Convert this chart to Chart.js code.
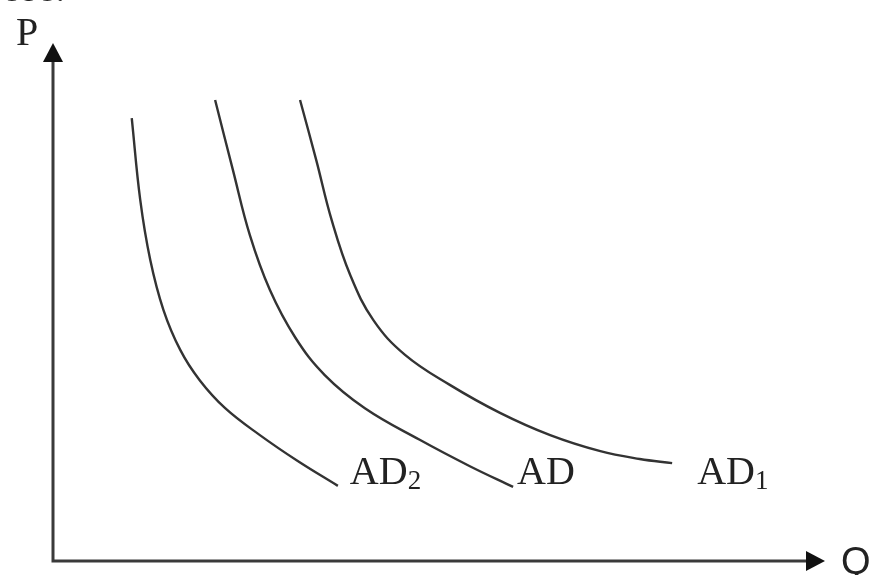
<!DOCTYPE html>
<html>
<head>
<meta charset="utf-8">
<script src="https://cdn.jsdelivr.net/npm/chart.js@4/dist/chart.umd.min.js"></script>
<style>
  html, body { margin: 0; padding: 0; background: #fff; }
  #wrap { width: 878px; height: 575px; position: relative; }
</style>
</head>
<body>
<div id="wrap"><canvas id="c" width="878" height="575"></canvas></div>
<script>
// Aggregate demand curves: quantity (Q) vs price level (P), arbitrary units 0–100
const adLeftQ  = [10.2, 11.3, 12.6, 14.3, 16.5, 19.0, 22.3, 26.8, 31.7, 36.9];
const adLeftP  = [85.5, 69.7, 58.1, 48.5, 40.7, 34.9, 29.5, 24.3, 19.3, 14.5];

const adMidQ   = [21.0, 23.3, 25.5, 28.1, 31.4, 35.2, 40.4, 47.5, 54.0, 59.6];
const adMidP   = [89.0, 75.5, 62.9, 52.3, 43.1, 35.9, 29.5, 23.4, 18.3, 14.3];

const adRightQ = [32.0, 34.1, 36.1, 38.5, 41.5, 45.6, 51.4, 57.9, 64.4, 70.9, 76.0, 80.2];
const adRightP = [89.0, 77.4, 65.8, 55.2, 46.5, 39.8, 34.0, 28.6, 24.3, 21.2, 19.7, 18.9];

// Curve labels: main text + subscript
const curveNames = [
  { main: 'AD', sub: '2' },
  { main: 'AD', sub: '' },
  { main: 'AD', sub: '1' }
];
const axisNames = { x: 'Q', y: 'P' };

const toPoints = (qs, ps) => qs.map((q, i) => ({ x: q, y: ps[i] }));

const INK = '#333';

const curveStyle = {
  showLine: true,
  borderColor: INK,
  borderWidth: 2.4,
  pointRadius: 0,
  fill: false,
  tension: 0.4
};

// Axes with arrowheads, drawn from the scales' origin
const axesPlugin = {
  id: 'arrowAxes',
  afterDatasetsDraw(chart) {
    const { ctx, scales: { x, y } } = chart;
    const ox = x.getPixelForValue(0);
    const oy = y.getPixelForValue(0);
    const xEnd = x.getPixelForValue(x.max);
    const yEnd = y.getPixelForValue(y.max);
    const head = 19, half = 10;
    ctx.save();
    ctx.strokeStyle = '#3a3a3a';
    ctx.fillStyle = '#111';
    ctx.lineWidth = 3;
    ctx.beginPath();
    ctx.moveTo(ox, oy + 1.5);
    ctx.lineTo(ox, yEnd + head - 2);
    ctx.moveTo(ox - 1.5, oy);
    ctx.lineTo(xEnd - head + 2, oy);
    ctx.stroke();
    // vertical arrowhead
    ctx.beginPath();
    ctx.moveTo(ox, yEnd);
    ctx.lineTo(ox - half, yEnd + head);
    ctx.lineTo(ox + half, yEnd + head);
    ctx.closePath();
    ctx.fill();
    // horizontal arrowhead
    ctx.beginPath();
    ctx.moveTo(xEnd, oy);
    ctx.lineTo(xEnd - head, oy - half);
    ctx.lineTo(xEnd - head, oy + half);
    ctx.closePath();
    ctx.fill();

    // axis names
    ctx.fillStyle = '#222';
    ctx.textBaseline = 'alphabetic';
    ctx.font = '40px "Liberation Serif"';
    ctx.textAlign = 'left';
    ctx.fillText(axisNames.y, ox - 37, yEnd + 2);
    ctx.font = '38px "Liberation Sans"';
    ctx.fillText(axisNames.x, xEnd + 16, oy + 13);

    // heading line cut off at the top edge
    ctx.font = '40px "Liberation Serif"';
    ctx.fillText('ose.', 2, 1);
    ctx.restore();
  }
};

// Labels placed just to the right of each curve's lower end
const labelPlugin = {
  id: 'curveLabels',
  afterDatasetsDraw(chart, args, opts) {
    const { ctx } = chart;
    ctx.save();
    ctx.fillStyle = '#222';
    ctx.textBaseline = 'alphabetic';
    ctx.textAlign = 'left';
    chart.data.datasets.forEach((ds, i) => {
      const meta = chart.getDatasetMeta(i);
      const last = meta.data[meta.data.length - 1];
      const name = curveNames[i];
      const px = last.x + opts.gaps[i];
      const py = opts.baseline;
      ctx.font = '40px "Liberation Serif"';
      ctx.fillText(name.main, px, py);
      const w = ctx.measureText(name.main).width;
      if (name.sub) {
        ctx.font = '27px "Liberation Serif"';
        ctx.fillText(name.sub, px + w, py + 5);
      }
    });
    ctx.restore();
  }
};

new Chart(document.getElementById('c'), {
  type: 'scatter',
  data: {
    datasets: [
      { label: 'AD2', data: toPoints(adLeftQ, adLeftP), ...curveStyle },
      { label: 'AD',  data: toPoints(adMidQ, adMidP), ...curveStyle },
      { label: 'AD1', data: toPoints(adRightQ, adRightP), ...curveStyle }
    ]
  },
  options: {
    responsive: false,
    animation: false,
    layout: { padding: { left: 53, right: 53, top: 43, bottom: 14 } },
    scales: {
      x: { type: 'linear', min: 0, max: 100, display: false },
      y: { type: 'linear', min: 0, max: 100, display: false }
    },
    plugins: {
      legend: { display: false },
      tooltip: { enabled: false },
      curveLabels: { gaps: [12, 4, 25], baseline: 484 }
    }
  },
  plugins: [axesPlugin, labelPlugin]
});
</script>
</body>
</html>
